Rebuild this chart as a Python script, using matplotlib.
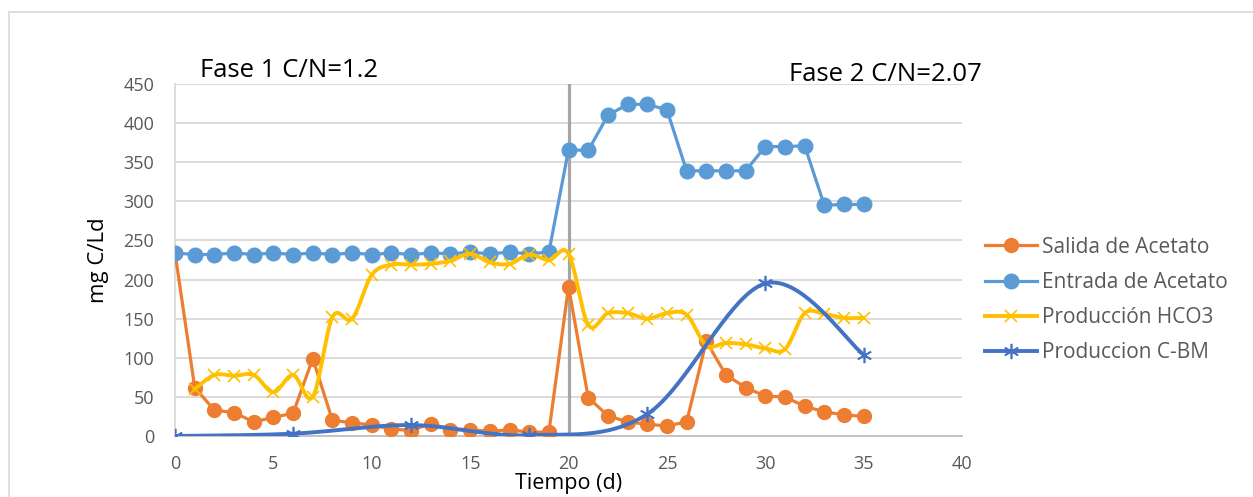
import numpy as np
import matplotlib.pyplot as plt
from matplotlib.patches import Rectangle

plt.rcParams['font.family'] = ['Open Sans', 'DejaVu Sans']

# Data
dias = list(range(0, 36))
salida = [234, 62, 33, 30, 18, 24, 29, 99, 20, 17, 14, 9, 7, 16, 8, 8, 6, 8, 5, 5,
          191, 49, 26, 18, 15, 13, 18, 121, 78, 62, 51, 50, 38, 31, 27, 25]
entrada = [234, 232, 232, 234, 232, 234, 232, 234, 232, 234, 232, 234, 232, 234, 233, 235,
           233, 235, 233, 235, 366, 365, 410, 424, 424, 417, 339, 339, 339, 339, 370, 370,
           371, 295, 296, 296]
dias_hco3 = list(range(1, 36))
hco3 = [60, 78, 77, 78, 56, 78, 50, 152, 150, 206, 219, 219, 220, 224, 233, 222, 220, 232,
        225, 233, 142, 157, 157, 150, 157, 155, 116, 119, 117, 112, 111, 157, 156, 151, 151]
dias_bm = [0, 6, 12, 18, 24, 30, 35]
cbm = [0, 3, 14, 1, 28, 195, 104]


def smooth(x, y, n=20):
    # Catmull-Rom curve through the points (like Excel's smoothed line)
    p = np.column_stack([x, y]).astype(float)
    p = np.vstack([p[0], p, p[-1]])
    xs, ys = [], []
    t = np.linspace(0, 1, n)
    for i in range(1, len(p) - 2):
        p0, p1, p2, p3 = p[i - 1], p[i], p[i + 1], p[i + 2]
        b1 = p1 + (p2 - p0) / 6
        b2 = p2 - (p3 - p1) / 6
        c = ((1 - t) ** 3)[:, None] * p1 + (3 * (1 - t) ** 2 * t)[:, None] * b1 \
            + (3 * (1 - t) * t ** 2)[:, None] * b2 + (t ** 3)[:, None] * p2
        xs.extend(c[:, 0])
        ys.extend(c[:, 1])
    return xs, ys


fig = plt.figure(figsize=(12.53, 4.97), dpi=100)
ax = fig.add_axes([0.1397, 0.1227, 0.6281, 0.7083])

# outer chart border
fig.patches.append(Rectangle((9 / 1253, -0.1), 1.2, 1.1 - 12 / 497, transform=fig.transFigure,
                             fill=False, edgecolor='#D9D9D9', linewidth=1.2))

ax.axvline(20, color='#A6A6A6', linewidth=2.3, zorder=1)

ax.plot(dias, salida, color='#ED7D31', linewidth=2.3, marker='o', markersize=10,
        label='Salida de Acetato', zorder=3)
ax.plot(dias, entrada, color='#5B9BD5', linewidth=2.3, marker='o', markersize=10.5,
        label='Entrada de Acetato', zorder=4)

xs, ys = smooth(dias_hco3, hco3)
ax.plot(xs, ys, color='#FFC000', linewidth=2.8, zorder=5)
ax.plot(dias_hco3, hco3, linestyle='none', color='#FFC000', marker='x', markersize=9,
        markeredgewidth=1.2, zorder=5)
ax.plot([], [], color='#FFC000', linewidth=2.8, marker='x', markersize=9,
        markeredgewidth=1.2, label='Producción HCO3')

xs, ys = smooth(dias_bm, cbm, 40)
ax.plot(xs, ys, color='#4472C4', linewidth=2.8, zorder=6)
ax.plot(dias_bm, cbm, linestyle='none', color='#4472C4', marker=(6, 2, 0), markersize=11,
        markeredgewidth=1.2, zorder=6)
ax.plot([], [], color='#4472C4', linewidth=2.8, marker=(6, 2, 0), markersize=11,
        markeredgewidth=1.2, label='Produccion C-BM')

ax.set_xlim(0, 40)
ax.set_ylim(0, 450)
ax.set_xticks(range(0, 41, 5))
ax.set_yticks(range(0, 451, 50))
ax.tick_params(length=0, labelsize=13, labelcolor='#595959')
ax.tick_params(axis='x', pad=14)
ax.tick_params(axis='y', pad=15)
ax.grid(axis='y', color='#D9D9D9', linewidth=1.3)
ax.set_axisbelow(True)
for s in ['top', 'right']:
    ax.spines[s].set_visible(False)
ax.spines['left'].set_color('#D9D9D9')
ax.spines['left'].set_linewidth(1.3)
ax.spines['bottom'].set_color('#BFBFBF')
ax.spines['bottom'].set_linewidth(1.3)

ax.set_ylabel('mg C/Ld', fontsize=16, color='#000000', labelpad=10)
ax.set_xlabel('Tiempo (d)', fontsize=15.5, color='#000000', labelpad=0)

ax.text(1.25, 467, 'Fase 1 C/N=1.2', fontsize=18.5, clip_on=False, va='center')
ax.text(31.2, 462, 'Fase 2 C/N=2.07', fontsize=18.5, clip_on=False, va='center')

leg = ax.legend(loc='center left', bbox_to_anchor=(985 / 1253, 197 / 497),
                bbox_transform=fig.transFigure, frameon=False, fontsize=15,
                handlelength=2.5, labelspacing=0.68, handletextpad=0.25,
                borderaxespad=0, borderpad=0)
for t in leg.get_texts():
    t.set_color('#595959')

plt.savefig('out.png', dpi=100)
